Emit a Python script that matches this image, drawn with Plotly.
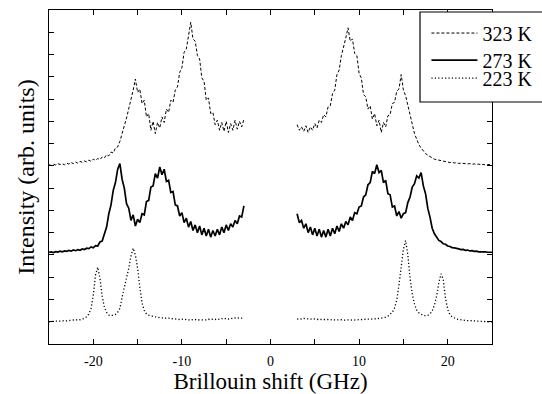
import plotly.graph_objects as go

# Sampling grid (GHz) for the two measured halves of the spectrum
X_LEFT = [-25.00, -24.75, -24.50, -24.25, -24.00, -23.75, -23.50, -23.25, -23.00, -22.75,
          -22.50, -22.25, -22.00, -21.75, -21.50, -21.25, -21.00, -20.75, -20.50, -20.25,
          -20.00, -19.75, -19.50, -19.25, -19.00, -18.75, -18.50, -18.25, -18.00, -17.75,
          -17.50, -17.25, -17.00, -16.75, -16.50, -16.25, -16.00, -15.75, -15.50, -15.25,
          -15.00, -14.75, -14.50, -14.25, -14.00, -13.75, -13.50, -13.25, -13.00, -12.75,
          -12.50, -12.25, -12.00, -11.75, -11.50, -11.25, -11.00, -10.75, -10.50, -10.25,
          -10.00, -9.75, -9.50, -9.25, -9.00, -8.75, -8.50, -8.25, -8.00, -7.75,
          -7.50, -7.25, -7.00, -6.75, -6.50, -6.25, -6.00, -5.75, -5.50, -5.25,
          -5.00, -4.75, -4.50, -4.25, -4.00, -3.75, -3.50, -3.25, -3.00]
X_RIGHT = [3.00, 3.25, 3.50, 3.75, 4.00, 4.25, 4.50, 4.75, 5.00, 5.25,
           5.50, 5.75, 6.00, 6.25, 6.50, 6.75, 7.00, 7.25, 7.50, 7.75,
           8.00, 8.25, 8.50, 8.75, 9.00, 9.25, 9.50, 9.75, 10.00, 10.25,
           10.50, 10.75, 11.00, 11.25, 11.50, 11.75, 12.00, 12.25, 12.50, 12.75,
           13.00, 13.25, 13.50, 13.75, 14.00, 14.25, 14.50, 14.75, 15.00, 15.25,
           15.50, 15.75, 16.00, 16.25, 16.50, 16.75, 17.00, 17.25, 17.50, 17.75,
           18.00, 18.25, 18.50, 18.75, 19.00, 19.25, 19.50, 19.75, 20.00, 20.25,
           20.50, 20.75, 21.00, 21.25, 21.50, 21.75, 22.00, 22.25, 22.50, 22.75,
           23.00, 23.25, 23.50, 23.75, 24.00, 24.25, 24.50, 24.75, 25.00]

# 323 K (offset spectrum, arb. units)
I323_LEFT = [8.05, 8.02, 8.08, 8.04, 8.10, 8.06, 8.09, 8.05, 8.12, 8.08,
             8.15, 8.10, 8.18, 8.12, 8.20, 8.16, 8.22, 8.18, 8.26, 8.20,
             8.30, 8.25, 8.33, 8.28, 8.40, 8.36, 8.50, 8.45, 8.62, 8.58,
             8.80, 8.85, 9.10, 9.40, 9.80, 10.15, 10.55, 10.95, 11.40, 11.90,
             11.30, 11.45, 10.80, 10.95, 10.20, 10.35, 9.60, 10.00, 9.45, 9.95,
             9.70, 10.20, 9.95, 10.55, 10.40, 10.95, 10.85, 11.40, 11.55, 12.20,
             12.40, 13.10, 13.25, 13.85, 14.45, 13.70, 13.60, 12.95, 12.80, 11.95,
             11.80, 10.95, 11.05, 10.35, 10.40, 9.85, 10.05, 9.60, 9.95, 9.55,
             10.00, 9.50, 9.90, 9.60, 10.05, 9.65, 10.00, 9.75, 10.10]
I323_RIGHT = [9.85, 9.60, 9.75, 9.55, 9.80, 9.50, 9.75, 9.60, 9.90, 9.70,
              10.05, 9.95, 10.30, 10.20, 10.65, 10.70, 11.25, 11.40, 12.10, 12.30,
              12.95, 13.30, 13.75, 14.20, 13.60, 13.70, 13.05, 12.95, 12.15, 11.95,
              11.20, 11.10, 10.55, 10.70, 10.10, 10.35, 9.80, 10.05, 9.50, 9.95,
              9.75, 10.25, 10.30, 10.80, 10.85, 11.35, 11.45, 12.10, 11.40, 11.15,
              10.70, 10.25, 9.85, 9.45, 9.20, 8.95, 8.80, 8.65, 8.55, 8.48,
              8.40, 8.36, 8.30, 8.28, 8.24, 8.22, 8.20, 8.18, 8.17, 8.15,
              8.16, 8.13, 8.14, 8.11, 8.12, 8.10, 8.11, 8.09, 8.10, 8.07,
              8.09, 8.06, 8.08, 8.05, 8.07, 8.04, 8.06, 8.05, 8.06]

# 273 K
I273_LEFT = [4.12, 4.14, 4.11, 4.15, 4.13, 4.17, 4.14, 4.18, 4.16, 4.20,
             4.17, 4.22, 4.19, 4.24, 4.21, 4.27, 4.24, 4.30, 4.28, 4.36,
             4.32, 4.42, 4.40, 4.58, 4.62, 4.95, 5.25, 5.85, 6.25, 6.90,
             7.25, 7.85, 8.10, 7.40, 7.00, 6.30, 6.10, 5.55, 5.80, 5.30,
             5.60, 5.45, 5.85, 5.80, 6.40, 6.45, 7.05, 7.10, 7.65, 7.45,
             7.95, 7.60, 7.85, 7.30, 7.35, 6.80, 6.85, 6.25, 6.20, 5.75,
             5.90, 5.45, 5.65, 5.25, 5.50, 5.10, 5.35, 5.00, 5.30, 4.90,
             5.20, 4.85, 5.15, 4.80, 5.10, 4.85, 5.15, 4.90, 5.25, 5.00,
             5.35, 5.10, 5.40, 5.25, 5.55, 5.40, 5.75, 5.70, 6.20]
I273_RIGHT = [5.85, 5.45, 5.55, 5.20, 5.40, 5.00, 5.25, 4.90, 5.20, 4.85,
              5.15, 4.80, 5.10, 4.80, 5.15, 4.85, 5.20, 4.95, 5.30, 5.05,
              5.40, 5.20, 5.50, 5.35, 5.70, 5.55, 5.90, 5.85, 6.15, 6.20,
              6.60, 6.70, 7.15, 7.25, 7.75, 7.65, 8.05, 7.70, 7.80, 7.25,
              7.35, 6.75, 6.70, 6.15, 6.20, 5.75, 5.95, 5.65, 5.85, 5.90,
              6.35, 6.60, 7.05, 7.20, 7.55, 7.45, 7.70, 7.10, 6.75, 6.10,
              5.70, 5.20, 4.95, 4.80, 4.65, 4.60, 4.50, 4.48, 4.40, 4.38,
              4.33, 4.32, 4.28, 4.27, 4.24, 4.25, 4.21, 4.22, 4.18, 4.19,
              4.16, 4.17, 4.14, 4.15, 4.13, 4.14, 4.12, 4.13, 4.12]

# 223 K
I223_LEFT = [1.00, 1.02, 1.01, 1.03, 1.02, 1.04, 1.03, 1.05, 1.04, 1.06,
             1.05, 1.08, 1.07, 1.10, 1.09, 1.12, 1.15, 1.22, 1.35, 1.60,
             2.20, 3.10, 3.45, 2.95, 2.15, 1.65, 1.42, 1.30, 1.27, 1.30,
             1.33, 1.42, 1.60, 2.10, 2.50, 2.90, 3.40, 3.95, 4.30, 4.00,
             3.40, 2.55, 1.85, 1.50, 1.35, 1.30, 1.26, 1.24, 1.22, 1.20,
             1.19, 1.17, 1.18, 1.15, 1.16, 1.13, 1.14, 1.12, 1.13, 1.10,
             1.12, 1.09, 1.11, 1.08, 1.10, 1.08, 1.10, 1.07, 1.09, 1.08,
             1.10, 1.08, 1.11, 1.09, 1.12, 1.10, 1.13, 1.10, 1.14, 1.12,
             1.15, 1.12, 1.16, 1.14, 1.17, 1.15, 1.18, 1.16, 1.19]
I223_RIGHT = [1.12, 1.14, 1.12, 1.15, 1.13, 1.14, 1.12, 1.11, 1.13, 1.10,
              1.12, 1.10, 1.11, 1.09, 1.10, 1.08, 1.10, 1.08, 1.09, 1.07,
              1.09, 1.07, 1.08, 1.07, 1.09, 1.07, 1.08, 1.08, 1.10, 1.09,
              1.11, 1.10, 1.12, 1.11, 1.13, 1.12, 1.14, 1.15, 1.16, 1.18,
              1.20, 1.25, 1.32, 1.42, 1.62, 1.98, 2.65, 3.45, 4.25, 4.65,
              4.00, 2.95, 2.25, 1.80, 1.52, 1.40, 1.32, 1.28, 1.27, 1.29,
              1.35, 1.48, 1.75, 2.15, 2.75, 3.15, 2.90, 2.05, 1.55, 1.32,
              1.22, 1.16, 1.12, 1.10, 1.08, 1.07, 1.06, 1.05, 1.05, 1.04,
              1.03, 1.03, 1.02, 1.02, 1.01, 1.01, 1.00, 1.00, 1.00]

SERIES_NAMES = ["323 K", "273 K", "223 K"]
TICK_VALS = [-20, -15, -10, -5, 0, 5, 10, 15, 20]
TICK_TEXT = ["-20", "", "-10", "", "0", "", "10", "", "20"]
X_TITLE = "Brillouin shift (GHz)"
Y_TITLE = "Intensity (arb. units)"

FONT = "Liberation Serif, DejaVu Serif, serif"

series = [
    (SERIES_NAMES[0], I323_LEFT, I323_RIGHT, "3px,2px", 1.0, "legend", 0.931),
    (SERIES_NAMES[1], I273_LEFT, I273_RIGHT, "solid", 1.7, "legend2", 0.850),
    (SERIES_NAMES[2], I223_LEFT, I223_RIGHT, "1.2px,2.2px", 1.3, "legend3", 0.796),
]

fig = go.Figure()
for name, yl, yr, dash, lw, leg, _ in series:
    fig.add_trace(go.Scatter(
        x=X_LEFT + [None] + X_RIGHT,
        y=yl + [None] + yr,
        mode="lines",
        name=name,
        line=dict(color="black", width=lw, dash=dash),
        connectgaps=False,
        legend=leg,
    ))

axis_common = dict(
    showline=True, linecolor="black", linewidth=1.3, mirror="ticks",
    ticks="inside", tickcolor="black", tickwidth=1, ticklen=5,
    showgrid=False, zeroline=False, automargin=False,
)

layout_legends = {}
for name, yl, yr, dash, lw, leg, ypos in series:
    layout_legends[leg] = dict(
        x=0.852, y=ypos, xanchor="left", yanchor="middle",
        bgcolor="rgba(0,0,0,0)", borderwidth=0,
        font=dict(family=FONT, size=20, color="black"),
        itemwidth=46,
    )

fig.update_layout(
    width=542, height=394,
    margin=dict(l=49, r=50, t=10, b=50, autoexpand=False),
    paper_bgcolor="white", plot_bgcolor="white",
    font=dict(family=FONT, color="black"),
    xaxis=dict(
        range=[-25, 25], tickmode="array", tickvals=TICK_VALS, ticktext=TICK_TEXT,
        tickfont=dict(family=FONT, size=14, color="black"),
        ticklabelstandoff=4,
        title=dict(text=X_TITLE, font=dict(family=FONT, size=23, color="black"), standoff=2),
        **axis_common,
    ),
    yaxis=dict(
        range=[0, 15], dtick=1, showticklabels=False,
        title=dict(text=Y_TITLE, font=dict(family=FONT, size=24, color="black"), standoff=6),
        **axis_common,
    ),
    shapes=[dict(
        type="rect", xref="paper", yref="paper",
        x0=0.8375, x1=1.2, y0=0.7246, y1=0.994,
        line=dict(color="black", width=1.2), fillcolor="white", layer="above",
    )],
    showlegend=True,
    **layout_legends,
)

fig.write_html(
    "out.html",
    config={"displayModeBar": False},
    post_script="document.body.style.margin='0';document.body.style.overflow='hidden';",
)
